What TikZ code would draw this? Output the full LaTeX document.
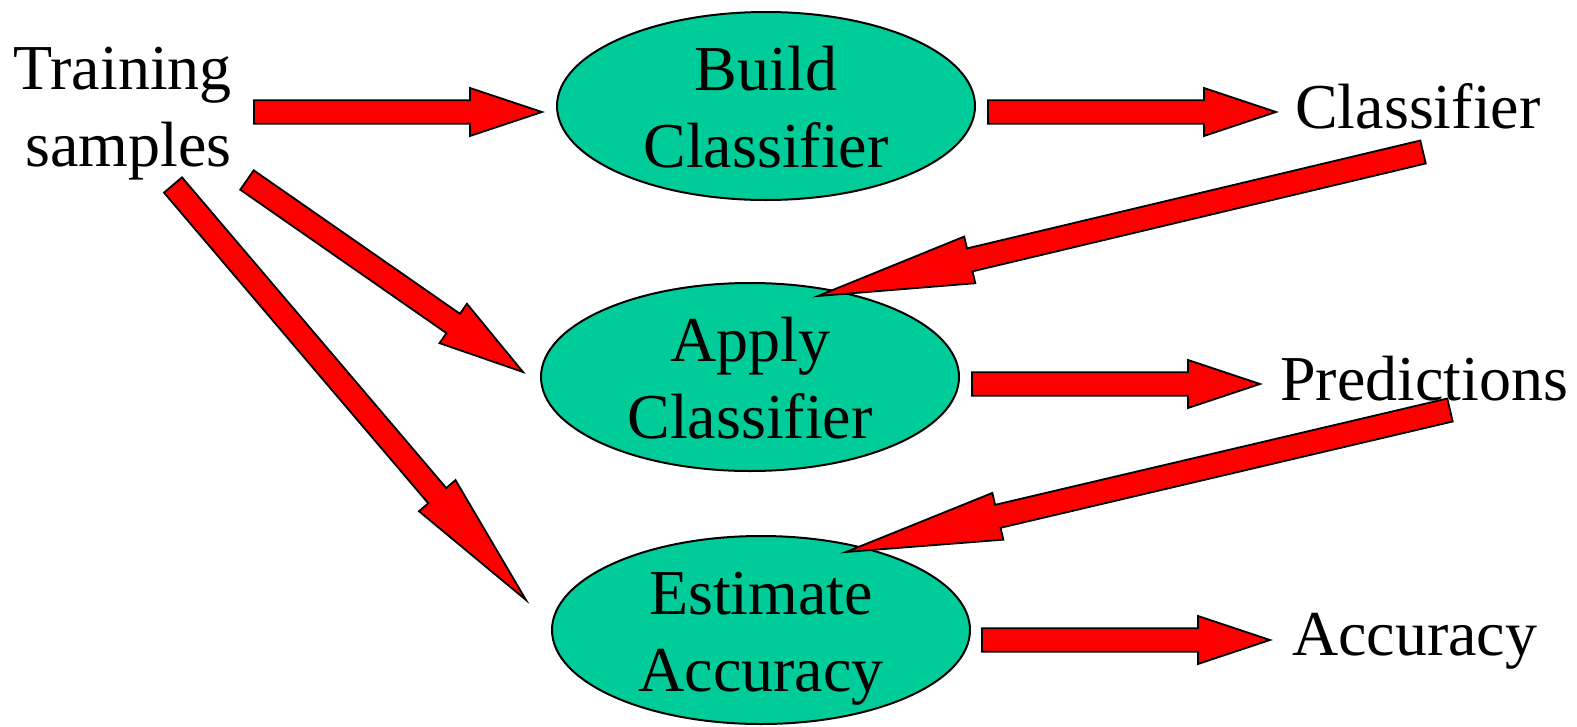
\documentclass[tikz,border=0pt]{standalone}
\usepackage{fontspec}
\setmainfont{Liberation Serif}
\usetikzlibrary{calc,shapes.geometric}
\definecolor{ellfill}{RGB}{0,204,153}
\newcommand\sw{11.8pt}
\newcommand\hw{24pt}
\newcommand\blockarrow[3]{%
  \path ($(#2)!#3!(#1)$) coordinate (hb);
  \draw[blockarr] ($(#1)!\sw!90:(#2)$) -- ($(hb)!\sw!-90:(#1)$) -- ($(hb)!\hw!-90:(#1)$) -- (#2)
    -- ($(hb)!\hw!90:(#1)$) -- ($(hb)!\sw!90:(#1)$) -- ($(#1)!\sw!-90:(#2)$) -- cycle;}
\begin{document}
\begin{tikzpicture}[x=1pt,y=-1pt,
  lbl/.style={inner sep=0pt, font=\fontsize{64}{77}\selectfont},
  stage/.style={ellipse, draw=black, line width=2pt, fill=ellfill, inner sep=0pt,
    minimum width=418pt, minimum height=188pt, align=center,
    text height=123pt, text depth=0pt, font=\fontsize{64}{77}\selectfont},
  blockarr/.style={draw=black, line width=1.8pt, fill=red, line join=miter}]
\useasboundingbox (0,0) rectangle (1577,726);
% stages
\node[stage] (build) at (766,106) {Build\\Classifier};
\node[stage] (apply) at (750,377) {Apply\\Classifier};
\node[stage] (estim) at (761,630) {Estimate\\Accuracy};
% labels
\node[lbl, anchor=base east, align=right] (train) at (232,166) {Training\\samples};
\node[lbl, anchor=base west] (clf) at (1295,128) {Classifier};
\node[lbl, anchor=base west] (pred) at (1280,400) {Predictions};
\node[lbl, anchor=base west] (acc) at (1292,655) {Accuracy};
% arrow end points
\coordinate (t1) at (254,112);  \coordinate (h1) at (542,112);
\coordinate (t2) at (988,112);  \coordinate (h2) at (1276,112);
\coordinate (t3) at (972,384);  \coordinate (h3) at (1260,384);
\coordinate (t4) at (982,640);  \coordinate (h4) at (1270,640);
\coordinate (t5) at (1423,152); \coordinate (h5) at (818,296);
\coordinate (t6) at (1450,410); \coordinate (h6) at (846,552);
\coordinate (t7) at (247,180);  \coordinate (h7) at (523,372);
\coordinate (t8) at (173,185);  \coordinate (h8) at (526,600);
\blockarrow{t1}{h1}{72pt}
\blockarrow{t2}{h2}{72pt}
\blockarrow{t3}{h3}{72pt}
\blockarrow{t4}{h4}{72pt}
\blockarrow{t5}{h5}{156pt}
\blockarrow{t6}{h6}{156pt}
\blockarrow{t7}{h7}{85pt}
\blockarrow{t8}{h8}{137pt}
\end{tikzpicture}
\end{document}
